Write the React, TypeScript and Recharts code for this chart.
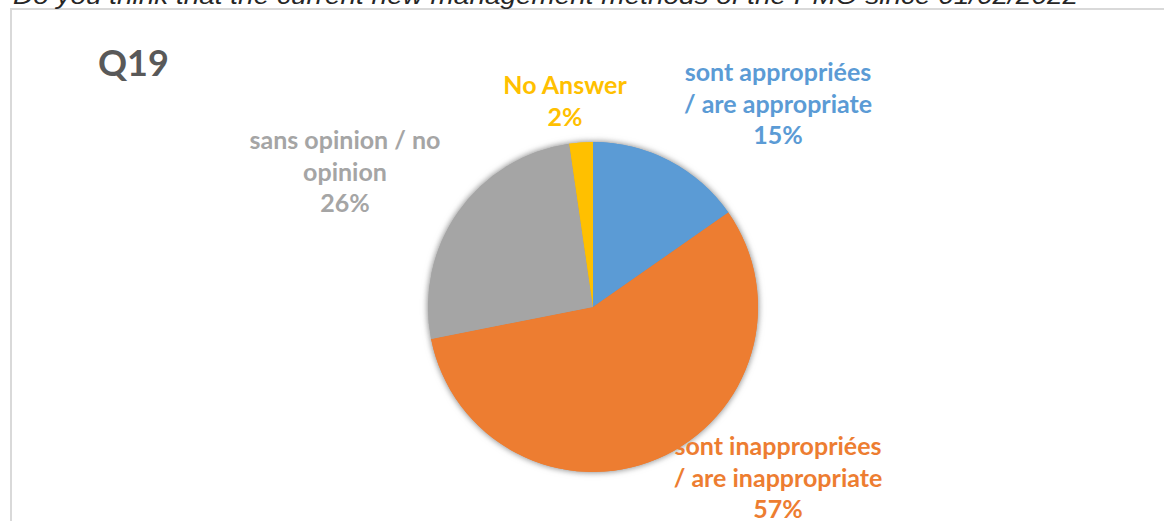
import { PieChart, Pie, Cell } from 'recharts';

const CATEGORIES = [
  'sont appropriées / are appropriate',
  'sont inappropriées / are inappropriate',
  'sans opinion / no opinion',
  'No Answer',
];
// label lines as they wrap in the original
const LABEL_LINES = [
  ['sont appropriées', '/ are appropriate'],
  ['sont inappropriées', '/ are inappropriate'],
  ['sans opinion / no', 'opinion'],
  ['No Answer'],
];
const SHARES = [15.3, 56.6, 25.8, 2.3];

const COLORS = ['#5B9BD5', '#ED7D31', '#A5A5A5', '#FFC000'];

// label anchor offsets from the pie centre (dx, first baseline dy)
const LABEL_OFFSETS = [
  [185, -226],
  [185, 148],
  [-248, -158],
  [-28, -213],
];

const TITLE = 'Q19';
const QUESTION =
  'Do you think that the current new management methods of the PMO since 01/02/2022';

const data = CATEGORIES.map((name, i) => ({ name, value: SHARES[i] }));

const LABEL_FONT = 'Lato, "Open Sans", sans-serif';

const renderLabel = (props: any) => {
  const { cx, cy, index, percent } = props;
  const [dx, dy] = LABEL_OFFSETS[index];
  const lines = [...LABEL_LINES[index], `${Math.round(percent * 100)}%`];
  return (
    <text
      x={cx + dx}
      y={cy + dy}
      textAnchor="middle"
      fill={COLORS[index]}
      fontFamily={LABEL_FONT}
      fontWeight={700}
      fontSize={25}
    >
      {lines.map((line, i) => (
        <tspan key={i} x={cx + dx} dy={i === 0 ? 0 : 31.5}>
          {line}
        </tspan>
      ))}
    </text>
  );
};

export default function App() {
  return (
    <div
      style={{
        position: 'absolute',
        left: 0,
        top: 0,
        width: 1164,
        height: 521,
        overflow: 'hidden',
        background: '#fff',
      }}
    >
      <style>{`.pie-shadow { filter: drop-shadow(0 0 3px rgba(0,0,0,0.28)); }`}</style>
      <div
        style={{
          position: 'absolute',
          left: 10,
          top: 8,
          width: 1300,
          height: 700,
          border: '2px solid #d9d9d9',
          boxSizing: 'border-box',
        }}
      />
      <svg
        width={1164}
        height={521}
        style={{ position: 'absolute', left: 0, top: 0, pointerEvents: 'none' }}
      >
        <text
          x={13}
          y={4}
          fontFamily='"Liberation Sans", Arial, sans-serif'
          fontStyle="italic"
          fontSize={24}
          fill="#262626"
          textLength={1065}
          lengthAdjust="spacingAndGlyphs"
        >
          {QUESTION}
        </text>
        <text
          x={98}
          y={76}
          fontFamily={LABEL_FONT}
          fontWeight={700}
          fontSize={36}
          fill="#595959"
        >
          {TITLE}
        </text>
      </svg>
      <div style={{ position: 'absolute', left: 0, top: 0 }}>
        <PieChart
          width={1164}
          height={521}
          margin={{ top: 0, right: 0, bottom: 0, left: 0 }}
        >
          <Pie
            data={data}
            dataKey="value"
            nameKey="name"
            cx={593}
            cy={307}
            outerRadius={165}
            startAngle={90}
            endAngle={-270}
            stroke="none"
            className="pie-shadow"
            isAnimationActive={false}
            label={false}
            labelLine={false}
          >
            {data.map((_, i) => (
              <Cell key={i} fill={COLORS[i]} />
            ))}
          </Pie>
          <Pie
            data={data}
            dataKey="value"
            nameKey="name"
            cx={593}
            cy={307}
            outerRadius={165}
            startAngle={90}
            endAngle={-270}
            stroke="none"
            isAnimationActive={false}
            label={renderLabel}
            labelLine={false}
          >
            {data.map((_, i) => (
              <Cell key={i} fill={COLORS[i]} />
            ))}
          </Pie>
        </PieChart>
      </div>
    </div>
  );
}
